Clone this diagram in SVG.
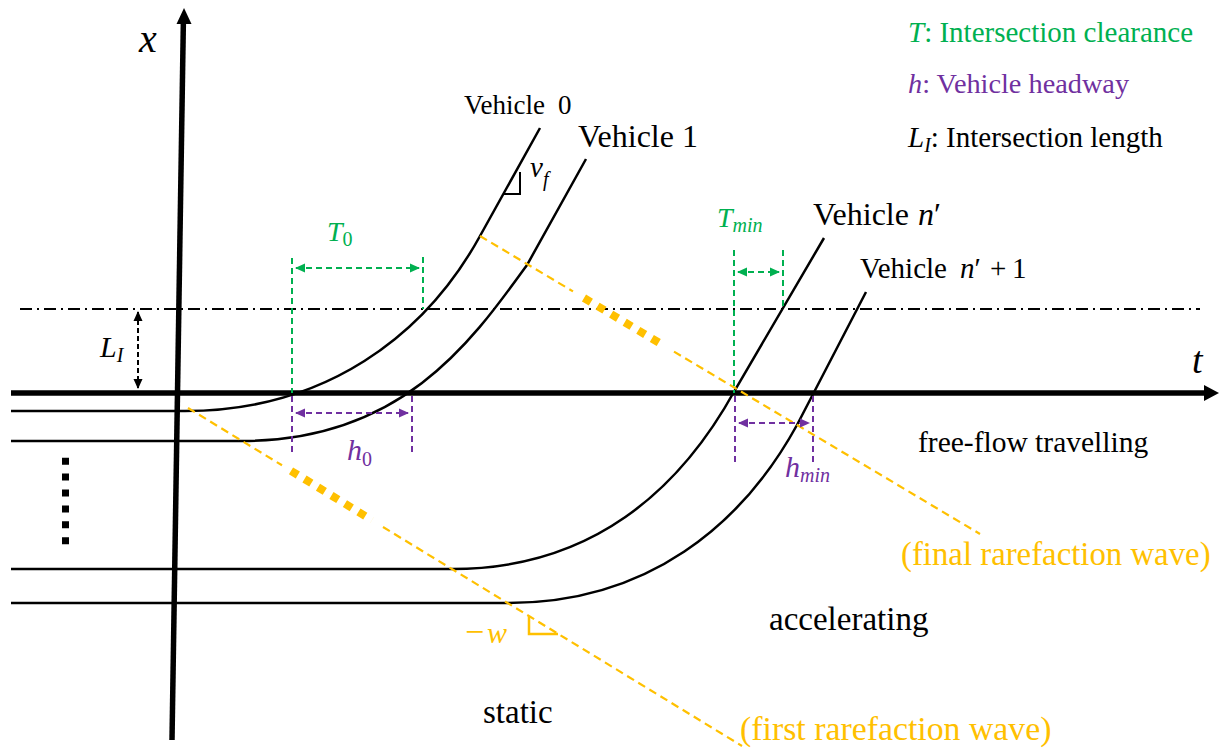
<svg xmlns="http://www.w3.org/2000/svg" width="1221" height="754" viewBox="0 0 1221 754" font-family="'Liberation Serif','Times New Roman',serif">
<defs>
<style>
text{font-family:"Liberation Serif","Times New Roman",serif;}
.it{font-style:italic;}
.traj{fill:none;stroke:#000;stroke-width:2.5;}
.wave{fill:none;stroke:#FFC000;stroke-width:2.2;stroke-dasharray:8 5;}
.wavethick{fill:none;stroke:#FFC000;stroke-width:8;stroke-dasharray:8 7.8;}
.gdim{fill:none;stroke:#00B050;stroke-width:2;stroke-dasharray:6 4;}
.pdim{fill:none;stroke:#7030A0;stroke-width:2;stroke-dasharray:6 4;}
.green{fill:#00B050;}
.purple{fill:#7030A0;}
.orange{fill:#FFC000;}
</style>
<marker id="ag" viewBox="0 0 10 10" refX="9" refY="5" markerWidth="10" markerHeight="10" markerUnits="userSpaceOnUse" orient="auto-start-reverse"><path d="M0,0.5 L10,5 L0,9.5 z" fill="#00B050"/></marker>
<marker id="ap" viewBox="0 0 10 10" refX="9" refY="5" markerWidth="10" markerHeight="10" markerUnits="userSpaceOnUse" orient="auto-start-reverse"><path d="M0,0.5 L10,5 L0,9.5 z" fill="#7030A0"/></marker>
<marker id="ak" viewBox="0 0 10 10" refX="9" refY="5" markerWidth="10" markerHeight="10" markerUnits="userSpaceOnUse" orient="auto-start-reverse"><path d="M0,0.5 L10,5 L0,9.5 z" fill="#000"/></marker>
</defs>
<rect width="1221" height="754" fill="#fff"/>

<g id="axes">
<line x1="172" y1="740" x2="183.4" y2="20" stroke="#000" stroke-width="5.5"/>
<path d="M184,8 L191.5,24 L176.5,24 z" fill="#000"/>
<line x1="11" y1="393" x2="1206" y2="393" stroke="#000" stroke-width="5.3"/>
<path d="M1219,393 L1204,385 L1204,401 z" fill="#000"/>
<text x="139" y="52" font-size="40" class="it">x</text>
<text x="1192" y="373" font-size="38" class="it">t</text>
</g>

<g id="intersection-line">
<line x1="20" y1="309" x2="1200" y2="309" stroke="#000" stroke-width="2" stroke-dasharray="12 5 2 5"/>
</g>

<g id="vehicle-0">
<path class="traj" d="M11,411 L185,411 C325,411 425,336 480,236 L540,128"/>
<text y="114" font-size="27"><tspan x="464">Vehicle</tspan><tspan x="558">0</tspan></text>
<polyline points="503,194 520,194 520,172" fill="none" stroke="#000" stroke-width="2"/>
<text x="530" y="177" font-size="29" class="it">v<tspan font-size="20" dy="9">f</tspan></text>
</g>

<g id="vehicle-1">
<path class="traj" d="M11,441 L242,441 C402,441 472,341 527,265 L586,159"/>
<text y="147" font-size="32"><tspan x="578">Vehicle</tspan><tspan x="682">1</tspan></text>
</g>

<g id="vehicle-n">
<path class="traj" d="M11,569 L452,569 C592,569 680,490 735,390 L824,238"/>
<text y="225" font-size="32"><tspan x="813">Vehicle</tspan><tspan x="918" class="it">n</tspan><tspan>′</tspan></text>
</g>

<g id="vehicle-n1">
<path class="traj" d="M11,603 L508,603 C648,603 742,525 797,425 L866,292"/>
<text y="278" font-size="29"><tspan x="860">Vehicle</tspan><tspan x="960" class="it">n</tspan><tspan>′</tspan><tspan x="990">+</tspan><tspan x="1012">1</tspan></text>
</g>

<g id="ellipsis">
<line x1="65.5" y1="457.7" x2="65.5" y2="545" stroke="#000" stroke-width="7" stroke-dasharray="7 8.9"/>
</g>

<g id="connectors">
<line class="wave" x1="480" y1="236" x2="573" y2="291.4"/>
<line class="wavethick" x1="584" y1="298" x2="664" y2="345.7"/>
<line class="wave" x1="674" y1="351.6" x2="980" y2="534"/>
<line class="wave" x1="188" y1="408" x2="282" y2="465.3"/>
<line class="wavethick" x1="291" y1="470.8" x2="372" y2="520.2"/>
<line class="wave" x1="383" y1="527" x2="742" y2="746"/>
<polyline points="529,616.5 529,634 558,634" fill="none" stroke="#FFC000" stroke-width="2.5"/>
<line x1="138" y1="312" x2="138" y2="388" stroke="#000" stroke-width="2" stroke-dasharray="5 3" marker-start="url(#ak)" marker-end="url(#ak)"/>
<line class="gdim" x1="292" y1="258" x2="292" y2="393"/>
<line class="gdim" x1="423" y1="257" x2="423" y2="309"/>
<line class="gdim" x1="296" y1="268" x2="419" y2="268" marker-start="url(#ag)" marker-end="url(#ag)"/>
<line class="pdim" x1="292" y1="396" x2="292" y2="452"/>
<line class="pdim" x1="412" y1="396" x2="412" y2="452"/>
<line class="pdim" x1="296" y1="413" x2="408" y2="413" marker-start="url(#ap)" marker-end="url(#ap)"/>
<line class="gdim" x1="734" y1="250" x2="734" y2="393"/>
<line class="gdim" x1="783" y1="250" x2="783" y2="309"/>
<line class="gdim" x1="738" y1="272" x2="779" y2="272" marker-start="url(#ag)" marker-end="url(#ag)"/>
<line class="pdim" x1="735" y1="396" x2="735" y2="462"/>
<line class="pdim" x1="813" y1="396" x2="813" y2="462"/>
<line class="pdim" x1="739" y1="423" x2="809" y2="423" marker-start="url(#ap)" marker-end="url(#ap)"/>
</g>

<g id="labels">
<text x="100" y="357" font-size="30" class="it">L<tspan font-size="20" dy="5">I</tspan></text>
<text x="327" y="241" font-size="28" class="it green">T<tspan font-size="20" dy="5" font-style="normal">0</tspan></text>
<text x="347" y="460" font-size="30" class="it purple">h<tspan font-size="20" dy="6" font-style="normal">0</tspan></text>
<text x="717" y="227" font-size="28" class="it green">T<tspan font-size="20" dy="5">min</tspan></text>
<text x="785" y="477" font-size="30" class="it purple">h<tspan font-size="20" dy="5">min</tspan></text>
<text y="643" class="orange"><tspan x="465" font-size="34">−</tspan><tspan x="487" font-size="30" class="it">w</tspan></text>
<text x="918" y="452" font-size="29.5">free-flow travelling</text>
<text x="901" y="565" font-size="32.8" class="orange">(final rarefaction wave)</text>
<text x="769" y="630" font-size="33">accelerating</text>
<text x="483" y="723" font-size="33">static</text>
<text x="740" y="740" font-size="33.8" class="orange">(first rarefaction wave)</text>
</g>

<g id="legend">
<text x="908" y="42" font-size="29" class="green"><tspan class="it">T</tspan>: Intersection  clearance</text>
<text x="908" y="93" font-size="28.3" class="purple"><tspan class="it">h</tspan>: Vehicle  headway</text>
<text x="908" y="147" font-size="29"><tspan class="it">L</tspan><tspan class="it" font-size="20" dy="5">I</tspan><tspan dy="-5">: Intersection  length</tspan></text>
</g>
</svg>
